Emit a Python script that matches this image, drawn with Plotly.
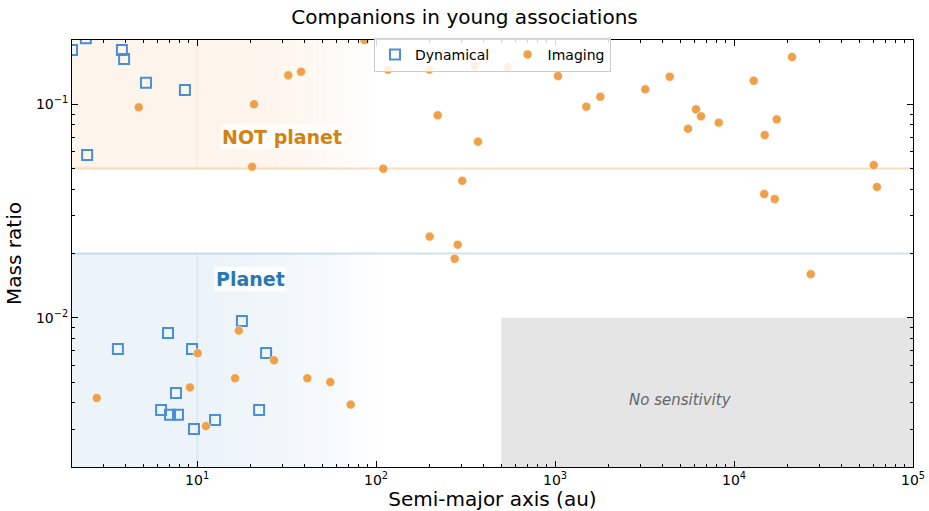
import plotly.graph_objects as go
import numpy as np

# ---------------- data ----------------
dyn_sma = [2.0, 2.39, 3.80, 3.91, 5.18, 8.55, 2.43, 3.61, 6.88, 9.37, 17.8, 24.3,
           7.62, 6.29, 7.06, 7.82, 22.2, 12.6, 9.61]
dyn_q = [0.1795, 0.204, 0.1795, 0.163, 0.126, 0.1167, 0.0579, 0.00714, 0.00849, 0.00714,
         0.00966, 0.00684, 0.00444, 0.00370, 0.00351, 0.00351, 0.00370, 0.00332, 0.00301]

img_sma = [4.72, 20.8, 32.3, 38.1, 20.3, 86.1, 2.75, 10.08, 9.12, 17.1, 16.3, 11.2,
           26.9, 41.3, 55.5, 72.1, 116.6, 198.4, 355.7, 543.9, 1039, 1495, 1791, 3194,
           221, 371, 109.7, 303, 199.4, 286, 275, 4373, 6133, 6541, 5534, 8215, 12882,
           21086, 14842, 17322, 60326, 62951, 14760, 16880, 26830]
img_q = [0.0968, 0.100, 0.1367, 0.142, 0.0510, 0.200, 0.00421, 0.00682, 0.00472, 0.00870,
         0.00521, 0.00311, 0.00632, 0.00521, 0.00500, 0.00392, 0.1452, 0.1452, 0.151, 0.1494,
         0.1356, 0.0974, 0.1085, 0.1175, 0.0888, 0.0668, 0.0499, 0.0438, 0.0240, 0.0220,
         0.0189, 0.1346, 0.0947, 0.0878, 0.0768, 0.0820, 0.1289, 0.1665, 0.0718, 0.0850,
         0.0519, 0.0410, 0.0380, 0.0360, 0.0160]

x_range = [2, 1e5]
y_range = [0.002, 0.2]
planet_limit = 0.02
not_planet_limit = 0.05
region_inner = 10
region_outer = 100
nosens_x = [500, 1e5]
nosens_y = [0.002, 0.01]

x_major = [10, 100, 1e3, 1e4, 1e5]
x_major_text = ["10<sup>1</sup>", "10<sup>2</sup>", "10<sup>3</sup>", "10<sup>4</sup>", "10<sup>5</sup>"]
y_major = [0.01, 0.1]
y_major_text = ["10<sup>\u22122</sup>", "10<sup>\u22121</sup>"]

# ---------------- figure ----------------
FONT = "DejaVu Sans"
fig = go.Figure()

shapes = []
ORANGE_RGB = "240,160,72"
BLUE_RGB = "31,119,180"
a_or, a_bl = 0.11, 0.08

def region(y0, y1, rgb, alpha):
    shapes.append(dict(type="rect", xref="x", yref="y", x0=x_range[0], x1=region_inner,
                       y0=y0, y1=y1, fillcolor=f"rgba({rgb},{alpha})", line_width=0, layer="below"))
    edges = np.logspace(np.log10(region_inner), np.log10(region_outer), 41)
    for a, b in zip(edges[:-1], edges[1:]):
        mid = np.sqrt(a * b)
        t = 1 - (mid - region_inner) / (region_outer - region_inner)
        shapes.append(dict(type="rect", xref="x", yref="y", x0=a, x1=b, y0=y0, y1=y1,
                           fillcolor=f"rgba({rgb},{alpha * t:.4f})", line_width=0, layer="below"))
    shapes.append(dict(type="line", xref="x", yref="y", x0=region_inner, x1=region_inner,
                       y0=y0, y1=y1, line=dict(color=f"rgba({rgb},{alpha*1.6:.3f})", width=1), layer="below"))

region(not_planet_limit, y_range[1], ORANGE_RGB, a_or)
region(y_range[0], planet_limit, BLUE_RGB, a_bl)

shapes.append(dict(type="line", xref="paper", yref="y", x0=0, x1=1, y0=not_planet_limit, y1=not_planet_limit,
                   line=dict(color="rgba(240,160,72,0.35)", width=2), layer="below"))
shapes.append(dict(type="line", xref="paper", yref="y", x0=0, x1=1, y0=planet_limit, y1=planet_limit,
                   line=dict(color="rgba(31,119,180,0.22)", width=2), layer="below"))
shapes.append(dict(type="rect", xref="x", yref="y", x0=nosens_x[0], x1=nosens_x[1],
                   y0=nosens_y[0], y1=nosens_y[1], fillcolor="#e5e5e5", line_width=0, layer="below"))

NBSP = "\u00a0"
fig.add_trace(go.Scatter(x=dyn_sma, y=dyn_q, mode="markers", name="Dynamical" + NBSP * 3,
                         marker=dict(symbol="square-open", size=10, color="#4a8fd6",
                                     line=dict(width=2, color="#4a8fd6"))))
fig.add_trace(go.Scatter(x=img_sma, y=img_q, mode="markers", name="Imaging",
                         marker=dict(symbol="circle", size=9, color="#f0a048",
                                     line=dict(width=0.5, color="white"))))

annotations = [
    dict(x=np.log10(30), y=np.log10(0.07), xref="x", yref="y", text="<b>NOT planet</b>", showarrow=False,
         font=dict(family=FONT, size=19, color="#d4820f"), bgcolor="rgba(255,255,255,0.75)", borderpad=1),
    dict(x=np.log10(20), y=np.log10(0.0152), xref="x", yref="y", text="<b>Planet</b>", showarrow=False,
         font=dict(family=FONT, size=19, color="#2a78b2"), bgcolor="rgba(255,255,255,0.75)", borderpad=1),
    dict(x=np.log10(5000), y=np.log10(0.0041), xref="x", yref="y", text="<i>No sensitivity</i>", showarrow=False,
         font=dict(family=FONT, size=15, color="#666666")),
]

def minor_vals(lo, hi):
    vals = []
    for d in range(int(np.floor(np.log10(lo))), int(np.ceil(np.log10(hi))) + 1):
        for m in range(2, 10):
            v = m * 10 ** d
            if lo <= v <= hi:
                vals.append(v)
    return vals

axis_common = dict(type="log", showgrid=False, zeroline=False, showline=True, linecolor="black",
                   linewidth=1, mirror="allticks", ticks="inside", ticklen=6, tickwidth=1,
                   tickcolor="black", tickfont=dict(family=FONT, size=14, color="black"),
                   automargin=False)

fig.update_layout(
    width=929, height=511,
    paper_bgcolor="white", plot_bgcolor="white",
    margin=dict(l=72, r=16, t=40, b=44),
    title=dict(text="Companions in young associations", x=0.5, xanchor="center", y=0.966, yanchor="middle",
               font=dict(family=FONT, size=20, color="black")),
    xaxis=dict(axis_common, range=[np.log10(x_range[0]), np.log10(x_range[1])],
               tickvals=x_major, ticktext=x_major_text,
               minor=dict(tickvals=minor_vals(x_range[0], x_range[1]), ticks="inside", ticklen=3,
                          tickcolor="black", showgrid=False),
               title=dict(text="Semi-major axis (au)", font=dict(family=FONT, size=20, color="black"), standoff=2)),
    yaxis=dict(axis_common, range=[np.log10(y_range[0]), np.log10(y_range[1])],
               tickvals=y_major, ticktext=y_major_text,
               minor=dict(tickvals=minor_vals(y_range[0], y_range[1]), ticks="inside", ticklen=3,
                          tickcolor="black", showgrid=False),
               title=dict(text="Mass ratio", font=dict(family=FONT, size=20, color="black"), standoff=8)),
    legend=dict(orientation="h", x=0.5, xanchor="center", y=1.005, yanchor="top",
                bgcolor="rgba(255,255,255,0.85)", bordercolor="#cccccc", borderwidth=1,
                font=dict(family=FONT, size=14, color="black")),
    shapes=shapes, annotations=annotations, showlegend=True,
)

fig.write_html("out.html", config={"displayModeBar": False},
               post_script="document.body.style.margin='0';document.body.style.overflow='hidden';")
